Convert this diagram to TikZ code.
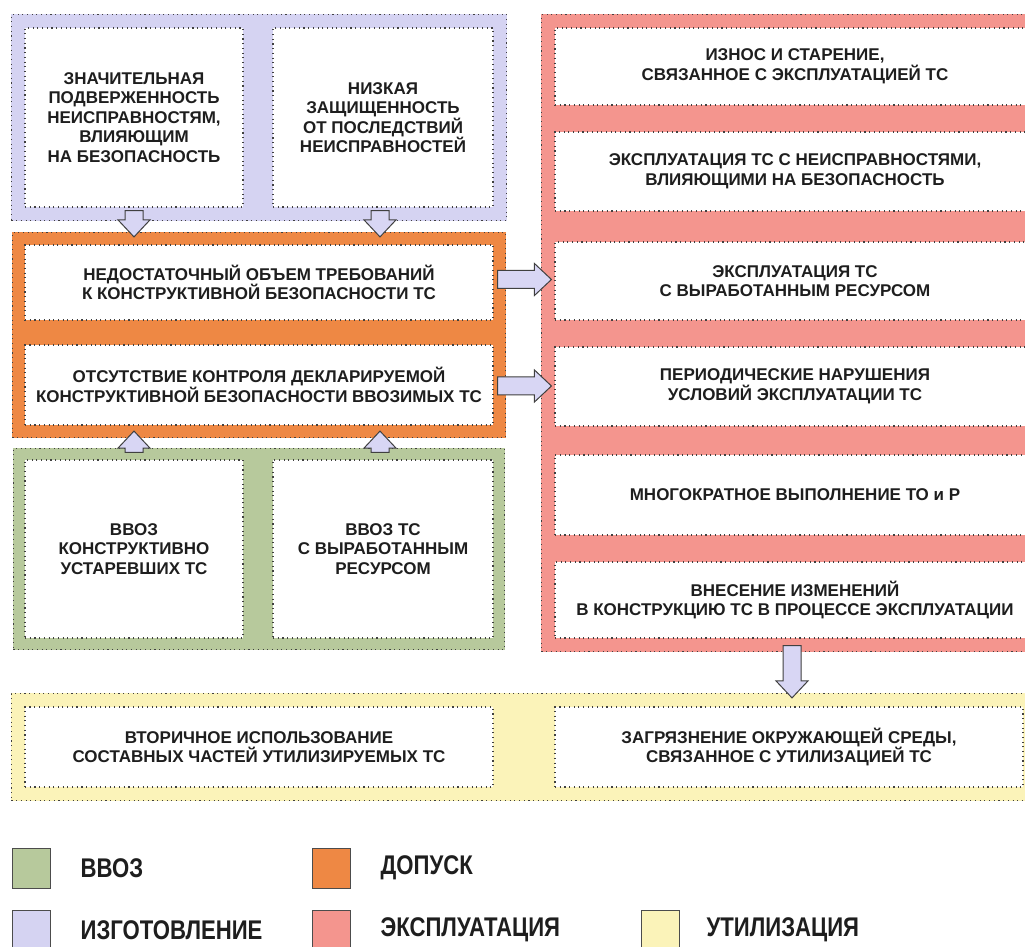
\documentclass[tikz,border=0pt]{standalone}
\usepackage{fontspec}
\setmainfont{Liberation Sans}
\newfontfamily\legfont{Liberation Sans}[FakeStretch=0.82]
\usepackage{tikz}
\usetikzlibrary{calc}
\usetikzlibrary{fit}
\usetikzlibrary{positioning}
\usetikzlibrary{backgrounds}

\definecolor{izgcol}{HTML}{D5D3F2}
\definecolor{dopcol}{HTML}{EE8844}
\definecolor{expcol}{HTML}{F4958E}
\definecolor{vvzcol}{HTML}{B7C99C}
\definecolor{utlcol}{HTML}{FBF3B9}
\definecolor{arrcol}{HTML}{D8D6F4}
\definecolor{inkcol}{HTML}{1E1E1E}

\tikzset{
  dots/.style={draw=black!75, line width=1.1pt, dash pattern=on 1.1pt off 3.6pt},
  cell/.style={dots, fill=white, align=center, inner sep=0pt, text=inkcol,
    font=\bfseries\fontsize{17}{19.5}\selectfont},
  zone/.style={dots, inner sep=13pt},
  barrow/.style={draw=black!75, line width=1pt, fill=arrcol, line join=miter},
  legbox/.style={draw=black!70, line width=0.8pt, minimum width=38pt, minimum height=40pt, inner sep=0pt},
  legtext/.style={text=inkcol, font=\legfont\bfseries\fontsize{27}{30}\selectfont, inner sep=0pt}
}

% block arrow from #1 to #2
\newcommand{\blockarrow}[2]{%
  \coordinate (ba-s) at (#1);
  \coordinate (ba-t) at (#2);
  \coordinate (ba-h) at ($(ba-t)!17pt!(ba-s)$);
  \draw[barrow] ($(ba-s)!9pt!90:(ba-t)$) -- ($(ba-h)!9pt!90:(ba-t)$)
    -- ($(ba-h)!16pt!90:(ba-t)$) -- (ba-t) -- ($(ba-h)!16pt!-90:(ba-t)$)
    -- ($(ba-h)!9pt!-90:(ba-t)$) -- ($(ba-s)!9pt!-90:(ba-t)$) -- cycle;}

\begin{document}
\begin{tikzpicture}[x=1pt,y=1pt]
\useasboundingbox (0,0) rectangle (1025,946);
\clip (0,0) rectangle (1025,946);

% manufacturing
\node[cell, minimum width=218, minimum height=179] (izgA) at (134,828.5)
  {ЗНАЧИТЕЛЬНАЯ\\ПОДВЕРЖЕННОСТЬ\\НЕИСПРАВНОСТЯМ,\\ВЛИЯЮЩИМ\\НА БЕЗОПАСНОСТЬ};
\node[cell, minimum width=220, minimum height=179] (izgB) at (383,828.5)
  {НИЗКАЯ\\ЗАЩИЩЕННОСТЬ\\ОТ ПОСЛЕДСТВИЙ\\НЕИСПРАВНОСТЕЙ};

% admission
\node[cell, minimum width=468, minimum height=75] (dopA) at (259,663.5)
  {НЕДОСТАТОЧНЫЙ ОБЪЕМ ТРЕБОВАНИЙ\\К КОНСТРУКТИВНОЙ БЕЗОПАСНОСТИ ТС};
\node[cell, minimum width=468, minimum height=80] (dopB) at (259,561)
  {ОТСУТСТВИЕ КОНТРОЛЯ ДЕКЛАРИРУЕМОЙ\\КОНСТРУКТИВНОЙ БЕЗОПАСНОСТИ ВВОЗИМЫХ ТС};

% import
\node[cell, minimum width=218, minimum height=178] (vvzA) at (134,397)
  {ВВОЗ\\КОНСТРУКТИВНО\\УСТАРЕВШИХ ТС};
\node[cell, minimum width=220, minimum height=178] (vvzB) at (383,397)
  {ВВОЗ ТС\\С ВЫРАБОТАННЫМ\\РЕСУРСОМ};

% operation
\node[cell, minimum width=480, minimum height=77] (expA) at (795,879.5)
  {ИЗНОС И СТАРЕНИЕ,\\СВЯЗАННОЕ С ЭКСПЛУАТАЦИЕЙ ТС};
\node[cell, minimum width=480, minimum height=79] (expB) at (795,774.5)
  {ЭКСПЛУАТАЦИЯ ТС С НЕИСПРАВНОСТЯМИ,\\ВЛИЯЮЩИМИ НА БЕЗОПАСНОСТЬ};
\node[cell, minimum width=480, minimum height=78] (expC) at (795,665)
  {ЭКСПЛУАТАЦИЯ ТС\\С ВЫРАБОТАННЫМ РЕСУРСОМ};
\node[cell, minimum width=480, minimum height=79] (expD) at (795,559.5)
  {ПЕРИОДИЧЕСКИЕ НАРУШЕНИЯ\\УСЛОВИЙ ЭКСПЛУАТАЦИИ ТС};
\node[cell, minimum width=480, minimum height=80] (expE) at (795,451)
  {МНОГОКРАТНОЕ ВЫПОЛНЕНИЕ ТО и Р};
\node[cell, minimum width=480, minimum height=76] (expF) at (795,346)
  {ВНЕСЕНИЕ ИЗМЕНЕНИЙ\\В КОНСТРУКЦИЮ ТС В ПРОЦЕССЕ ЭКСПЛУАТАЦИИ};

% recycling
\node[cell, minimum width=468, minimum height=80] (utlA) at (259,199)
  {ВТОРИЧНОЕ ИСПОЛЬЗОВАНИЕ\\СОСТАВНЫХ ЧАСТЕЙ УТИЛИЗИРУЕМЫХ ТС};
\node[cell, minimum width=468, minimum height=80] (utlB) at (789,199)
  {ЗАГРЯЗНЕНИЕ ОКРУЖАЮЩЕЙ СРЕДЫ,\\СВЯЗАННОЕ С УТИЛИЗАЦИЕЙ ТС};

\begin{scope}[on background layer]
  \fill[white] (0,0) rectangle (1025,946);
  \node[zone, fill=izgcol, fit=(izgA)(izgB)] (izg) {};
  \node[zone, fill=dopcol, inner sep=12pt, fit=(dopA)(dopB)] (dop) {};
  \node[zone, fill=vvzcol, inner sep=11pt, fit=(vvzA)(vvzB)] (vvz) {};
  \node[zone, fill=expcol, fit=(expA)(expF)] (exp) {};
  \node[zone, fill=utlcol, fit=(utlA)(utlB)] (utl) {};
\end{scope}

\blockarrow{$(izgA.south)+(0,-3)$}{$(izgA.south |- dop.north)+(0,-5)$}
\blockarrow{$(izgB.south)+(-3,-3)$}{$(izgB.south |- dop.north)+(-3,-5)$}
\blockarrow{$(vvzA.north)+(0,7)$}{$(vvzA.north |- dop.south)+(0,7)$}
\blockarrow{$(vvzB.north)+(-3,7)$}{$(vvzB.north |- dop.south)+(-3,7)$}
\blockarrow{$(dopA.east)+(4,3)$}{$(dopA.east -| expC.west)+(-3,3)$}
\blockarrow{$(dopB.east)+(4,-1)$}{$(dopB.east -| expD.west)+(-3,-1)$}
\blockarrow{$(expF.south)+(-3,-7)$}{$(expF.south |- utl.north)+(-3,-5)$}

% legend
\node[legbox, fill=vvzcol] (lgVvz) at (31,78) {};
\node[legtext, right=30pt of lgVvz] {ВВОЗ};
\node[legbox, fill=dopcol] (lgDop) at (331,78) {};
\node[legtext, right=30pt of lgDop] {ДОПУСК};
\node[legbox, fill=izgcol] (lgIzg) at (31,16) {};
\node[legtext, right=30pt of lgIzg] {ИЗГОТОВЛЕНИЕ};
\node[legbox, fill=expcol] (lgExp) at (331,16) {};
\node[legtext, right=30pt of lgExp] {ЭКСПЛУАТАЦИЯ};
\node[legbox, fill=utlcol] (lgUtl) at (660,16) {};
\node[legtext, right=27pt of lgUtl] {УТИЛИЗАЦИЯ};
\end{tikzpicture}
\end{document}
